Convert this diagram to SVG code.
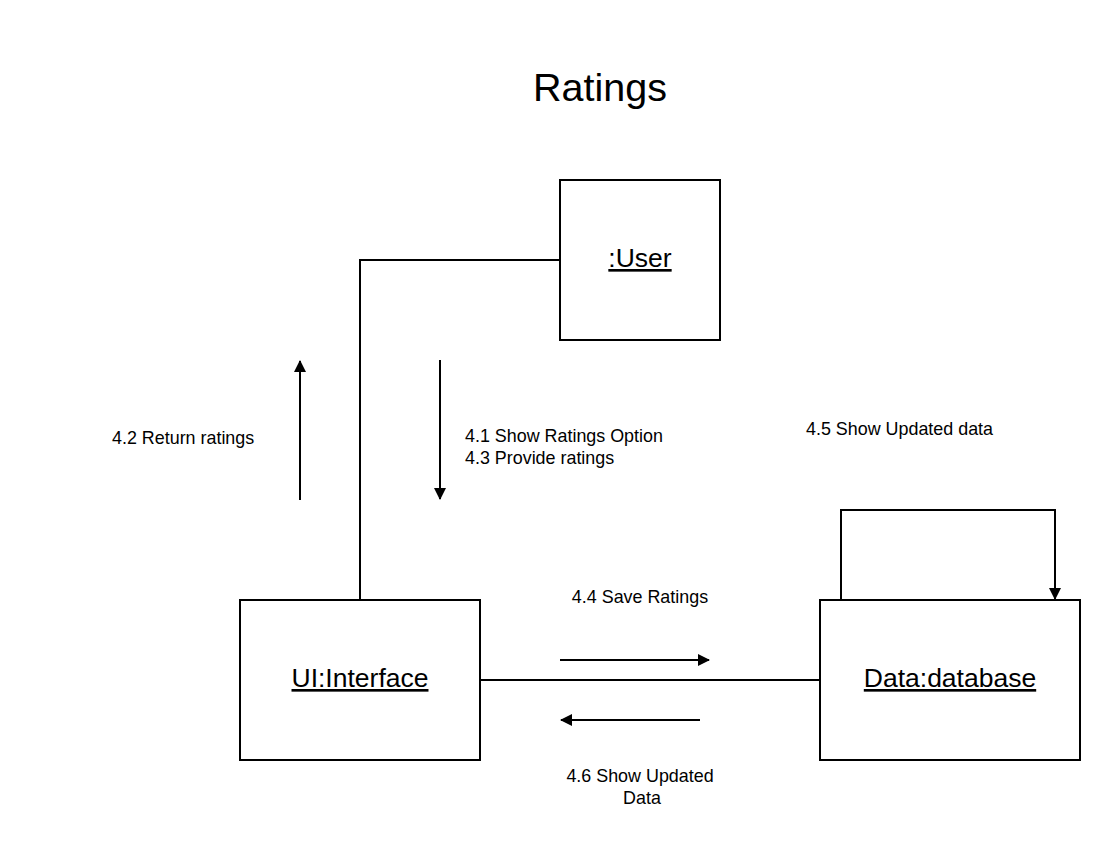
<svg xmlns="http://www.w3.org/2000/svg" width="1120" height="860" viewBox="0 0 1120 860">
<style>
.box{fill:#fff;stroke:#000;stroke-width:2}
.ln{fill:none;stroke:#000;stroke-width:2}
.nl{font-family:"Liberation Sans",Arial,sans-serif;font-size:26.5px;text-decoration:underline;text-anchor:middle}
.lb{font-family:"Liberation Sans",Arial,sans-serif;font-size:17.9px}
</style>
<defs>
<marker id="ah" markerWidth="12" markerHeight="12" viewBox="0 0 12 12" refX="11" refY="6" orient="auto" markerUnits="userSpaceOnUse">
<path d="M0,0 L12,6 L0,12 Z" fill="#000"/>
</marker>
</defs>
<rect width="1120" height="860" fill="#fff"/>
<text x="600" y="101" font-family="Liberation Sans,Arial,sans-serif" font-size="39.5" text-anchor="middle">Ratings</text>
<g id="connectors">
<path class="ln" d="M360,600 L360,260 L560,260"/>
<path class="ln" d="M480,680 L820,680"/>
<path class="ln" d="M300,500 L300,361" marker-end="url(#ah)"/>
<path class="ln" d="M440,360 L440,499" marker-end="url(#ah)"/>
<path class="ln" d="M841,600 L841,510 L1055,510 L1055,599" marker-end="url(#ah)"/>
<path class="ln" d="M560,660 L709,660" marker-end="url(#ah)"/>
<path class="ln" d="M700,720 L561,720" marker-end="url(#ah)"/>
<text class="lb" x="112" y="444">4.2 Return ratings</text>
<text class="lb" x="465" y="442">4.1 Show Ratings Option</text>
<text class="lb" x="465" y="464">4.3 Provide ratings</text>
<text class="lb" x="806" y="435">4.5 Show Updated data</text>
<text class="lb" x="640" y="603" text-anchor="middle">4.4 Save Ratings</text>
<text class="lb" x="640" y="782" text-anchor="middle">4.6 Show Updated</text>
<text class="lb" x="642" y="804" text-anchor="middle">Data</text>
</g>
<g id="user">
<rect class="box" x="560" y="180" width="160" height="160"/>
<text class="nl" x="640" y="267">:User</text>
</g>
<g id="ui">
<rect class="box" x="240" y="600" width="240" height="160"/>
<text class="nl" x="360" y="687">UI:Interface</text>
</g>
<g id="db">
<rect class="box" x="820" y="600" width="260" height="160"/>
<text class="nl" x="950" y="687">Data:database</text>
</g>
</svg>
